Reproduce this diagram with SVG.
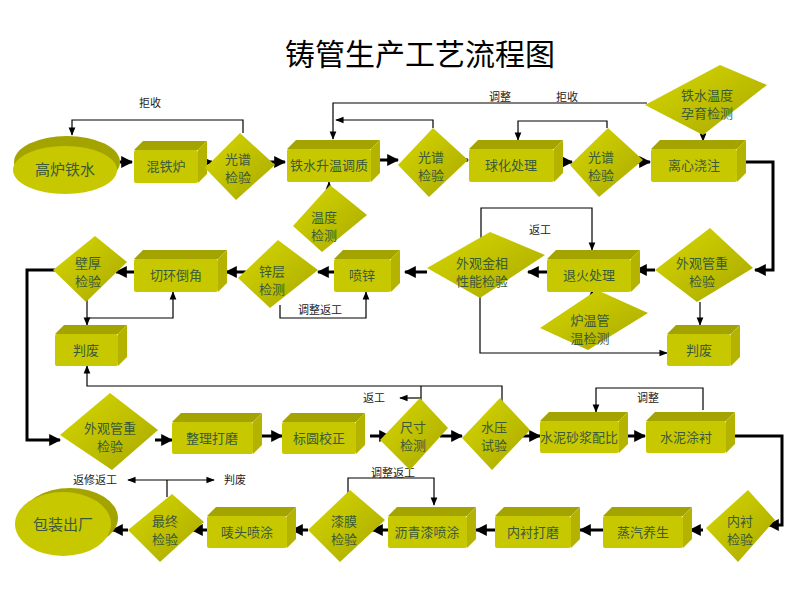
<svg xmlns="http://www.w3.org/2000/svg" width="800" height="600" viewBox="0 0 800 600">
<style>
.f{fill:#c8c800}.t{fill:#a4a400}.s{fill:#b4b400}
text{font-family:"Noto Sans CJK SC",sans-serif;font-size:13px;fill:#3a5a3a;text-anchor:middle}
.lb{fill:#222;font-size:11px}
.k{fill:none;stroke:#000;stroke-width:3}
.n{fill:none;stroke:#000;stroke-width:1.2}
</style>
<defs>
<linearGradient id="dg" x1="0" y1="0" x2="1" y2="1"><stop offset="0" stop-color="#d8d800"/><stop offset="1" stop-color="#a8a800"/></linearGradient>
<marker id="a" viewBox="0 0 10 10" refX="9" refY="5" markerWidth="4" markerHeight="4" orient="auto"><path d="M0,0L10,5L0,10z" fill="#000"/></marker>
<marker id="b" viewBox="0 0 10 10" refX="9" refY="5" markerWidth="7" markerHeight="7" orient="auto"><path d="M0,1L10,5L0,9z" fill="#000"/></marker>
</defs>
<rect width="800" height="600" fill="#fff"/>
<text x="420" y="65" style="font-size:30px;fill:#000">铸管生产工艺流程图</text>

<g id="connectors">
<path class="k" marker-end="url(#a)" d="M120,162H132"/>
<path class="k" marker-end="url(#a)" d="M200,162H212"/>
<path class="k" marker-end="url(#a)" d="M270,162H285"/>
<path class="k" marker-end="url(#a)" d="M378,160H398"/>
<path class="k" marker-end="url(#a)" d="M452,160H468"/>
<path class="k" marker-end="url(#a)" d="M555,162H572"/>
<path class="k" marker-end="url(#a)" d="M633,162H650"/>
<path class="k" marker-end="url(#a)" d="M742,162H773V270H755"/>
<path class="k" marker-end="url(#a)" d="M655,270H636"/>
<path class="k" marker-end="url(#a)" d="M547,272H528"/>
<path class="k" marker-end="url(#a)" d="M427,272H405"/>
<path class="k" marker-end="url(#a)" d="M334,272H318"/>
<path class="k" marker-end="url(#a)" d="M246,272H226"/>
<path class="k" marker-end="url(#a)" d="M134,272H116"/>
<path class="k" marker-end="url(#a)" d="M55,270H27V440H60"/>
<path class="k" marker-end="url(#a)" d="M155,440H172"/>
<path class="k" marker-end="url(#a)" d="M262,436H282"/>
<path class="k" marker-end="url(#a)" d="M370,436H390"/>
<path class="k" marker-end="url(#a)" d="M440,436H462"/>
<path class="k" marker-end="url(#a)" d="M522,436H540"/>
<path class="k" marker-end="url(#a)" d="M628,436H645"/>
<path class="k" marker-end="url(#a)" d="M735,436H782V525H768"/>
<path class="k" marker-end="url(#a)" d="M703,530H690"/>
<path class="k" marker-end="url(#a)" d="M603,530H580"/>
<path class="k" marker-end="url(#a)" d="M495,530H476"/>
<path class="k" marker-end="url(#a)" d="M388,530H372"/>
<path class="k" marker-end="url(#a)" d="M308,530H292"/>
<path class="k" marker-end="url(#a)" d="M207,530H192"/>
<path class="k" marker-end="url(#a)" d="M128,530H112"/>
<path class="n" marker-end="url(#b)" d="M243,133V120H72V135"/>
<path class="n" marker-end="url(#b)" d="M647,103H333V139"/>
<path class="n" marker-end="url(#b)" d="M433,128V120H336"/>
<path class="n" marker-end="url(#b)" d="M607,128V121H518V140"/>
<path class="n" marker-end="url(#b)" d="M703,135V141"/>
<path class="n" marker-end="url(#b)" d="M329,192V182"/>
<path class="n" marker-end="url(#b)" d="M481,240V208H592V250"/>
<path class="n" marker-end="url(#b)" d="M592,298V290"/>
<path class="n" marker-end="url(#b)" d="M700,302V325"/>
<path class="n" marker-end="url(#b)" d="M480,297V353H667"/>
<path class="n" marker-end="url(#b)" d="M280,305V318H366V292"/>
<path class="n" marker-end="url(#b)" d="M87,300V325"/>
<path class="n" marker-end="url(#b)" d="M87,318H173V292"/>
<path class="n" marker-end="url(#b)" d="M502,420V386H87V366"/>
<path class="n" d="M421,408V386"/>
<path class="n" marker-end="url(#b)" d="M421,398H400"/>
<path class="n" marker-end="url(#b)" d="M703,410V388H596V412"/>
<path class="n" marker-end="url(#b)" d="M348,497V478H434V505"/>
<path class="n" d="M167,497V480"/>
<path class="n" marker-end="url(#b)" d="M167,480H128"/>
<path class="n" marker-end="url(#b)" d="M167,480H214"/>
<text class="lb" x="150" y="107">拒收</text>
<text class="lb" x="500" y="101">调整</text>
<text class="lb" x="567" y="101">拒收</text>
<text class="lb" x="540" y="234">返工</text>
<text class="lb" x="320" y="314">调整返工</text>
<text class="lb" x="374" y="402">返工</text>
<text class="lb" x="648" y="402">调整</text>
<text class="lb" x="393" y="477">调整返工</text>
<text class="lb" x="95" y="484">返修返工</text>
<text class="lb" x="235" y="484">判废</text>
</g>

<g id="n_gl"><ellipse cx="67" cy="162" rx="53" ry="26" class="t"/><ellipse cx="65" cy="170" rx="52" ry="24" class="f"/><text x="65" y="175" style="font-size:15px">高炉铁水</text></g>
<g id="n_bz"><ellipse cx="70" cy="518" rx="48" ry="30" class="t"/><ellipse cx="63" cy="524" rx="48" ry="32" class="f"/><text x="63" y="530" style="font-size:15px">包装出厂</text></g>

<g id="n_htl"><path class="t" d="M134,150L143,141H207L198,150Z"/><path class="s" d="M198,150L207,141V174L198,183Z"/><rect class="f" x="134" y="150" width="64" height="33" rx="2"/><text x="166" y="171">混铁炉</text></g>
<g id="n_sw"><path class="t" d="M287,149L296,140H380L371,149Z"/><path class="s" d="M371,149L380,140V173L371,182Z"/><rect class="f" x="287" y="149" width="84" height="33" rx="2"/><text x="329" y="170">铁水升温调质</text></g>
<g id="n_qh"><path class="t" d="M469,149L478,140H563L554,149Z"/><path class="s" d="M554,149L563,140V173L554,182Z"/><rect class="f" x="469" y="149" width="85" height="33" rx="2"/><text x="511" y="170">球化处理</text></g>
<g id="n_lx"><path class="t" d="M651,149L660,140H746L737,149Z"/><path class="s" d="M737,149L746,140V173L737,182Z"/><rect class="f" x="651" y="149" width="86" height="33" rx="2"/><text x="694" y="170">离心浇注</text></g>
<g id="n_qh2"><path class="t" d="M134,259L143,250H227L218,259Z"/><path class="s" d="M218,259L227,250V283L218,292Z"/><rect class="f" x="134" y="259" width="84" height="33" rx="2"/><text x="176" y="280">切环倒角</text></g>
<g id="n_px"><path class="t" d="M334,259L343,250H400L391,259Z"/><path class="s" d="M391,259L400,250V283L391,292Z"/><rect class="f" x="334" y="259" width="57" height="33" rx="2"/><text x="362" y="280">喷锌</text></g>
<g id="n_th"><path class="t" d="M547,259L556,250H640L631,259Z"/><path class="s" d="M631,259L640,250V283L631,292Z"/><rect class="f" x="547" y="259" width="84" height="33" rx="2"/><text x="589" y="280">退火处理</text></g>
<g id="n_pf1"><path class="t" d="M55,334L64,325H127L118,334Z"/><path class="s" d="M118,334L127,325V357L118,366Z"/><rect class="f" x="55" y="334" width="63" height="32" rx="2"/><text x="86" y="355">判废</text></g>
<g id="n_pf2"><path class="t" d="M667,334L676,325H740L731,334Z"/><path class="s" d="M731,334L740,325V357L731,366Z"/><rect class="f" x="667" y="334" width="64" height="32" rx="2"/><text x="699" y="355">判废</text></g>
<g id="n_zl"><path class="t" d="M172,422L181,413H262L253,422Z"/><path class="s" d="M253,422L262,413V445L253,454Z"/><rect class="f" x="172" y="422" width="81" height="32" rx="2"/><text x="212" y="443">整理打磨</text></g>
<g id="n_by"><path class="t" d="M282,422L291,413H365L356,422Z"/><path class="s" d="M356,422L365,413V445L356,454Z"/><rect class="f" x="282" y="422" width="74" height="32" rx="2"/><text x="319" y="443">标圆校正</text></g>
<g id="n_sn"><path class="t" d="M540,421L549,412H628L619,421Z"/><path class="s" d="M619,421L628,412V444L619,453Z"/><rect class="f" x="540" y="421" width="79" height="32" rx="2"/><text x="579" y="442">水泥砂浆配比</text></g>
<g id="n_tc"><path class="t" d="M646,421L655,412H735L726,421Z"/><path class="s" d="M726,421L735,412V444L726,453Z"/><rect class="f" x="646" y="421" width="80" height="32" rx="2"/><text x="686" y="442">水泥涂衬</text></g>
<g id="n_zq"><path class="t" d="M603,516L612,507H692L683,516Z"/><path class="s" d="M683,516L692,507V539L683,548Z"/><rect class="f" x="603" y="516" width="80" height="32" rx="2"/><text x="643" y="537">蒸汽养生</text></g>
<g id="n_nc"><path class="t" d="M495,516L504,507H580L571,516Z"/><path class="s" d="M571,516L580,507V539L571,548Z"/><rect class="f" x="495" y="516" width="76" height="32" rx="2"/><text x="533" y="537">内衬打磨</text></g>
<g id="n_lq"><path class="t" d="M388,516L397,507H476L467,516Z"/><path class="s" d="M467,516L476,507V539L467,548Z"/><rect class="f" x="388" y="516" width="79" height="32" rx="2"/><text x="427" y="537">沥青漆喷涂</text></g>
<g id="n_ht"><path class="t" d="M207,516L216,507H296L287,516Z"/><path class="s" d="M287,516L296,507V539L287,548Z"/><rect class="f" x="207" y="516" width="80" height="32" rx="2"/><text x="247" y="537">唛头喷涂</text></g>

<g id="n_gp1"><path fill="url(#dg)" d="M240,133L275,165L236,200L205,168Z"/><text x="238" y="164">光谱</text><text x="238" y="182">检验</text></g>
<g id="n_gp2"><path fill="url(#dg)" d="M433,128L468,160L429,197L398,165Z"/><text x="431" y="162">光谱</text><text x="431" y="180">检验</text></g>
<g id="n_gp3"><path fill="url(#dg)" d="M608,128L643,160L599,197L570,165Z"/><text x="601" y="162">光谱</text><text x="601" y="180">检验</text></g>
<g id="n_tw"><path fill="url(#dg)" d="M720,65L767,85L703,135L645,105Z"/><text x="707" y="100">铁水温度</text><text x="707" y="118">孕育检测</text></g>
<g id="n_wd"><path fill="url(#dg)" d="M330,185L367,215L322,252L293,226Z"/><text x="324" y="222">温度</text><text x="324" y="240">检测</text></g>
<g id="n_bh"><path fill="url(#dg)" d="M95,236L127,262L86,302L53,270Z"/><text x="88" y="268">壁厚</text><text x="88" y="286">检验</text></g>
<g id="n_zc"><path fill="url(#dg)" d="M278,240L318,270L270,308L238,278Z"/><text x="272" y="276">锌层</text><text x="272" y="294">检测</text></g>
<g id="n_wg"><path fill="url(#dg)" d="M490,232L545,255L480,298L427,268Z"/><text x="482" y="268">外观金相</text><text x="482" y="286">性能检验</text></g>
<g id="n_lw"><path fill="url(#dg)" d="M597,290L648,313L588,350L540,328Z"/><text x="590" y="325">炉温管</text><text x="590" y="343">温检测</text></g>
<g id="n_wz1"><path fill="url(#dg)" d="M710,228L753,268L697,302L655,270Z"/><text x="702" y="268">外观管重</text><text x="702" y="286">检验</text></g>
<g id="n_wz2"><path fill="url(#dg)" d="M110,393L158,430L112,470L60,435Z"/><text x="110" y="433">外观管重</text><text x="110" y="451">检验</text></g>
<g id="n_cc"><path fill="url(#dg)" d="M420,398L448,428L410,470L380,440Z"/><text x="413" y="432">尺寸</text><text x="413" y="450">检测</text></g>
<g id="n_sy"><path fill="url(#dg)" d="M500,398L530,430L492,470L462,438Z"/><text x="494" y="432">水压</text><text x="494" y="450">试验</text></g>
<g id="n_nj"><path fill="url(#dg)" d="M748,490L775,520L738,562L706,528Z"/><text x="740" y="526">内衬</text><text x="740" y="544">检验</text></g>
<g id="n_qm"><path fill="url(#dg)" d="M350,490L385,520L340,562L308,530Z"/><text x="344" y="526">漆膜</text><text x="344" y="544">检验</text></g>
<g id="n_zj"><path fill="url(#dg)" d="M172,494L204,522L160,562L128,530Z"/><text x="165" y="526">最终</text><text x="165" y="544">检验</text></g>
</svg>
